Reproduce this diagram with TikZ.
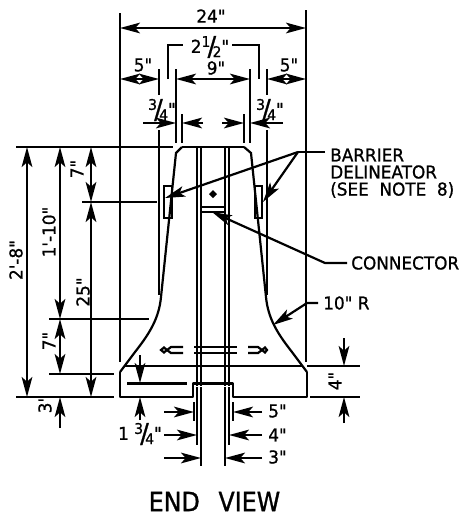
\documentclass[tikz,border=0pt]{standalone}
\usepackage{fontspec}
\newfontfamily\dfont[FakeStretch=0.95,FakeBold=0.9]{DejaVu Sans}
\newfontfamily\tfont[FakeStretch=0.89,FakeBold=1]{DejaVu Sans}
\usetikzlibrary{arrows.meta}
\newcommand{\frc}[2]{\raisebox{.34em}{\fontsize{11}{11}\selectfont #1}\kern-.16em{\fontsize{20}{20}\selectfont\raisebox{-.1em}{/}}\kern-.2em\raisebox{-.24em}{\fontsize{11}{11}\selectfont #2}}
\tikzset{
  x=.75pt,y=-.75pt,
  ln/.style={line width=1.65pt,line cap=butt},
  dim/.style={ln,-{Stealth[length=15pt,width=8pt,inset=3.5pt]}},
  ddim/.style={ln,{Stealth[length=15pt,width=8pt,inset=3.5pt]}-{Stealth[length=15pt,width=8pt,inset=3.5pt]}},
  lbl/.style={inner sep=0pt,font=\dfont\fontsize{13.3}{15}\selectfont},
  rlbl/.style={lbl,rotate=90},
  note/.style={lbl,anchor=west},
}
\begin{document}
\begin{tikzpicture}
\useasboundingbox (0,0) rectangle (459,515);
% concrete barrier outline
\draw[ln,line join=round] (120,372) -- (120,397) -- (193,397) -- (193,383.5) -- (233,383.5) -- (233,397) -- (307,397) -- (307,372);
\draw[ln] (182,147) -- (244,147);
\draw[ln] (182,147) -- (176,153) -- (161,297) .. controls (159,318) and (150,333) .. (135,352) -- (120,372);
\draw[ln] (244,147) -- (251,153) -- (266,297) .. controls (268,318) and (277,333) .. (292,352) -- (307,372);
\draw[ln] (125,366) -- (302,366);
% centre verticals
\foreach \vx/\vy in {197/445,201/466,225/466,229/445} \draw[ln] (\vx,147) -- (\vx,\vy);
\draw[white,line width=1.2pt] (195,386.5) -- (231,386.5);
% delineators and connector
\draw[ln] (164,186) rectangle (172,218);
\draw[ln] (255,186) rectangle (262,218);
\draw[ln] (201,207) -- (225,207);
\draw[ln] (201,212) -- (225,212);
\fill (213,190) -- (217,194) -- (213,198) -- (209,194) -- cycle;
% lifting marks
\draw[ln] (194,347) -- (237,347);
\draw[ln] (194,353) -- (237,353);
\draw[ln] (183,347) -- (171,347) -- (167,350) -- (164,347.5) -- (161,350) -- (164,352.5) -- (167,350) -- (171,353) -- (183,353);
\draw[ln] (248,347) -- (258,347) -- (262,350) -- (265,347.5) -- (267,350) -- (265,352.5) -- (262,350) -- (258,353) -- (248,353);
% extension lines, top
\draw[ln] (120,13) -- (120,362);
\draw[ln] (306,10) -- (306,362);
\draw[ln] (159,69) -- (159,95);
\draw[ln] (159,130) -- (159,295);
\draw[ln] (267,69) -- (267,95);
\draw[ln] (267,130) -- (267,295);
\draw[ln] (176,69) -- (176,143);
\draw[ln] (250,69) -- (250,143);
\draw[ln] (182,114) -- (182,143);
\draw[ln] (244,114) -- (244,143);
\draw[ln] (168,79) -- (168,45) -- (183,45);
\draw[ln] (232,45) -- (259,45) -- (259,79);
% horizontal dimensions
\draw[ddim] (120,28) -- (306,28);
\draw[ddim] (120,79) -- (159,79);
\draw[ddim] (176,79) -- (250,79);
\draw[ddim] (267,79) -- (306,79);
\draw[dim] (143,123) -- (176,123);
\draw[dim] (203,123) -- (182,123);
\draw[dim] (222,123) -- (244,123);
\draw[dim] (283,123) -- (250,123);
% extension lines, left
\draw[ln] (16,147) -- (173,147);
\draw[ln] (82,202) -- (157,202);
\draw[ln] (49,319) -- (149,319);
\draw[ln] (49,374) -- (114,374);
\draw[ln] (16,397) -- (114,397);
% vertical dimensions, left
\draw[ddim] (27,147) -- (27,397);
\draw[ddim] (60,147) -- (60,319);
\draw[ddim] (60,319) -- (60,374);
\draw[dim] (60,428) -- (60,397);
\draw[ddim] (91,147) -- (91,202);
\draw[ddim] (91,202) -- (91,397);
% right 4 inch dimension
\draw[ln] (307,366) -- (360,366);
\draw[ln] (310,397) -- (360,397);
\draw[dim] (344,338) -- (344,366);
\draw[dim] (344,423) -- (344,397);
% 1 3/4 dimension
\draw[ln] (127,383.5) -- (187,383.5);
\draw[dim] (140,355) -- (140,383);
\draw[dim] (140,420) -- (140,397);
% lower dimensions
\draw[ln] (194,402) -- (194,421);
\draw[ln] (233,402) -- (233,421);
\draw[dim] (164,412) -- (194,412);
\draw[dim] (262,412) -- (233,412);
\draw[dim] (164,435) -- (197,435);
\draw[dim] (262,435) -- (229,435);
\draw[dim] (164,458) -- (201,458);
\draw[dim] (262,458) -- (225,458);
% leaders
\coordinate (bd) at (298,152);
\coordinate (bdend) at (325,152);
\coordinate (dl) at (165,198);
\coordinate (dr) at (263,202);
\coordinate (cn) at (212,212);
\coordinate (cnk) at (325,263);
\coordinate (cne) at (347,263);
\coordinate (rt) at (273,325);
\coordinate (rk) at (307,303);
\coordinate (re) at (318,303);
\draw[ln] (bdend) -- (bd);
\draw[dim] (bd) -- (dl);
\draw[dim] (bd) -- (dr);
\draw[dim] (cne) -- (cnk) -- (cn);
\draw[dim] (re) -- (rk) -- (rt);
% labels
\node[lbl] (t24) at (211,16) {24"};
\node[lbl] (t212) at (210,47) {2\frc{1}{2}"};
\node[lbl] (t5l) at (143,65) {5"};
\node[lbl] (t9) at (216,68) {9"};
\node[lbl] (t5r) at (289,65) {5"};
\node[lbl] (t34l) at (162,110) {\frc{3}{4}"};
\node[lbl] (t34r) at (270,110) {\frc{3}{4}"};
\node[rlbl] (t28) at (16,260) {2'-8"};
\node[rlbl] (t110) at (49,232) {1'-10"};
\node[rlbl] (t7a) at (77,169) {7"};
\node[rlbl] (t25) at (83,292) {25"};
\node[rlbl] (t7b) at (49,341) {7"};
\node[rlbl] (t3v) at (45,404) {3"};
\node[rlbl] (t4v) at (335,381) {4"};
\node[note] (tb1) at (330,155) {BARRIER};
\node[note] (tb2) at (330,172) {DELINEATOR};
\node[note] (tb3) at (330,190) {(SEE\kern.3em\ NOTE\kern.3em\ 8)};
\node[note] (tc) at (351,263) {CONNECTOR};
\node[note] (tr) at (323,303) {10" R};
\node[lbl] (t134) at (140,434) {1 \frc{3}{4}"};
\node[note] (t5b) at (268,411) {5"};
\node[note] (t4b) at (268,435) {4"};
\node[note] (t3b) at (268,457) {3"};
\node[lbl,font=\tfont\fontsize{20}{22}\selectfont] (tev) at (214.5,501.5) {END\kern.42em\ VIEW};
\end{tikzpicture}
\end{document}
